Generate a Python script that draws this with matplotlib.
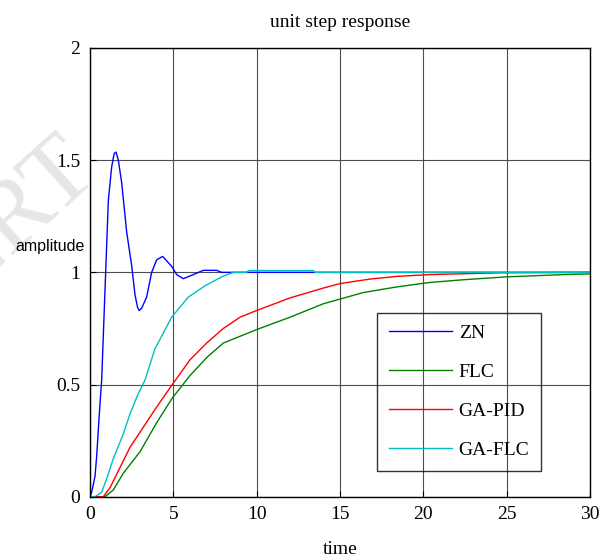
import matplotlib
matplotlib.use("Agg")
import matplotlib.pyplot as plt

# values
t_zn = [0, 0.1, 0.3, 0.4, 0.56, 0.7, 0.8, 0.9, 1.0, 1.1, 1.3, 1.45, 1.56, 1.7, 1.9,
        2.2, 2.5, 2.7, 2.85, 2.95, 3.1, 3.4, 3.7, 4.0, 4.36, 4.9, 5.2, 5.6, 6.2,
        6.8, 7.6, 7.9, 30]
zn = [0, 0.02, 0.09, 0.18, 0.37, 0.52, 0.72, 0.92, 1.12, 1.32, 1.47, 1.53, 1.536,
      1.5, 1.40, 1.18, 1.03, 0.9, 0.845, 0.83, 0.84, 0.89, 1.0, 1.056, 1.071,
      1.027, 0.99, 0.972, 0.99, 1.009, 1.009, 1.0, 1.0]

t_flc = [0, 0.9, 1.4, 2.0, 3.0, 4.0, 4.94, 6.0, 7.0, 8.0, 9.0, 10.0, 12.0, 14.0,
         16.4, 18.4, 20.4, 22.4, 25.0, 28.4, 30]
flc = [0, 0, 0.03, 0.105, 0.2, 0.33, 0.44, 0.54, 0.62, 0.685, 0.715, 0.745, 0.80,
       0.86, 0.91, 0.935, 0.955, 0.967, 0.98, 0.99, 0.993]

t_gapid = [0, 0.8, 1.2, 1.6, 2.4, 3.2, 4.0, 4.94, 6.0, 7.0, 8.0, 9.0, 10.0, 12.0,
           14.0, 15.0, 16.8, 18.4, 20.4, 24.6, 30]
gapid = [0, 0, 0.04, 0.10, 0.22, 0.31, 0.40, 0.50, 0.61, 0.685, 0.75, 0.80, 0.83,
         0.886, 0.93, 0.95, 0.97, 0.982, 0.99, 0.998, 1.0]

t_gaflc = [0, 0.3, 0.7, 1.0, 1.4, 2.0, 2.4, 2.9, 3.3, 3.9, 4.9, 5.9, 6.9, 7.9, 8.6,
           9.4, 9.5, 13.4, 13.5, 30]
gaflc = [0, 0, 0.02, 0.08, 0.17, 0.28, 0.37, 0.46, 0.52, 0.66, 0.80, 0.89, 0.94,
         0.98, 1.0, 1.0, 1.008, 1.008, 1.0, 1.0]

labels = ["ZN", "FLC", "GA-PID", "GA-FLC"]
xticks = [0, 5, 10, 15, 20, 25, 30]
yticks = [0, 0.5, 1, 1.5, 2]

serif = ["Liberation Serif", "DejaVu Serif"]
plt.rcParams["font.family"] = serif

fig = plt.figure(figsize=(6.08, 5.60), dpi=100)

# faint watermark, cut by the left edge like in the source
fig.text(100 / 608, 1 - 174 / 560, "IJERT", fontsize=72, color="#e6e6e6",
         rotation=42, ha="right", va="baseline", rotation_mode="anchor",
         family=serif, zorder=0)

ax = fig.add_axes([90 / 608, 1 - 496.7 / 560, 500 / 608, 448.7 / 560])

ax.plot(t_zn, zn, color=(0, 0, 1), lw=1.0, label=labels[0])
ax.plot(t_flc, flc, color=(0, 0.5, 0), lw=1.0, label=labels[1])
ax.plot(t_gapid, gapid, color=(1, 0, 0), lw=1.0, label=labels[2])
ax.plot(t_gaflc, gaflc, color=(0, 0.75, 0.75), lw=1.0, label=labels[3])

ax.set_xlim(0, 30)
ax.set_ylim(0, 2)
ax.set_xticks(xticks)
ax.set_yticks(yticks)
ax.set_yticklabels(["0", "0.5", "1", "1.5", "2"])
ax.tick_params(direction="in", length=4, labelsize=14, pad=7, color="black")
ax.grid(True, color="0.3", lw=0.8)
ax.set_axisbelow(True)
for s in ax.spines.values():
    s.set_linewidth(1.0)
    s.set_color("black")
ax.patch.set_alpha(0)

ax.set_title("unit step response", fontsize=14, pad=15)
ax.set_xlabel("time", fontsize=14, labelpad=13)
fig.text(50 / 608, 1 - 246 / 560, "amplitude", fontsize=11.5,
         family=["Liberation Sans", "DejaVu Sans"], ha="center", va="center")

leg = ax.legend(loc="upper left", bbox_to_anchor=(0.574, 0.4094),
                borderaxespad=0, fontsize=14, frameon=True, fancybox=False,
                labelspacing=1.1, handlelength=3.24, handletextpad=0.36,
                borderpad=0.6)
leg.get_frame().set_edgecolor("black")
leg.get_frame().set_linewidth(1.0)
leg.get_frame().set_facecolor("none")

fig.savefig("out.png", dpi=100)
